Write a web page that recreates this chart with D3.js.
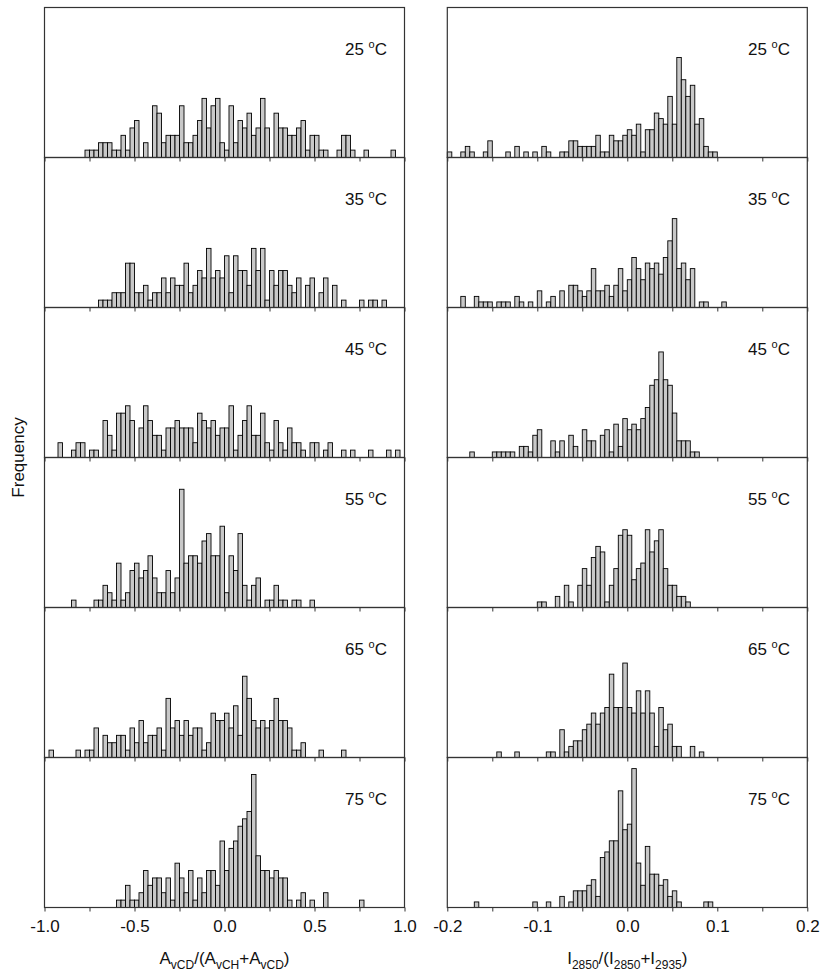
<!DOCTYPE html>
<html><head><meta charset="utf-8">
<script src="https://cdn.jsdelivr.net/npm/d3@7"></script>
<style>
body{margin:0;background:#fff}
svg{display:block}
text{font-family:"Liberation Sans",Arial,sans-serif;fill:#111}
</style>
</head><body>
<svg id="chart" width="823" height="980"></svg>
<script>
// ---------- data ----------
const temperatures = ["25", "35", "45", "55", "65", "75"];

// left column: A_vCD/(A_vCH+A_vCD), bins of 0.025 from -1.0
const leftBinStart = -1.0, leftBinWidth = 0.025;
const left25 = [0,0,0,0,0,0,0,0,0,1, 1,1,2,2,2,1,1,3,1,4, 5,0,2,0,7,6,2,3,3,3, 7,2,2,3,5,8,4,7,8,2, 1,7,2,5,4,6,3,4,8,4, 0,6,4,4,3,3,4,5,1,3, 3,1,1,0,0,1,3,3,1,0, 0,1,0,0,0,0,0,1,0,0];
const left35 = [0,0,0,0,0,0,0,0,0,0, 0,0,1,1,1,2,2,2,6,6, 2,2,3,1,2,2,4,2,4,3, 3,6,2,3,5,4,8,4,5,4, 7,2,7,5,5,3,8,5,8,1, 5,3,5,5,3,2,4,0,3,4, 0,2,4,0,3,0,1,0,0,0, 1,0,1,1,0,1,0,0,0,0];
const left45 = [0,0,0,2,0,0,1,2,2,0, 1,1,0,5,3,1,6,6,7,5, 0,4,7,5,3,3,1,4,4,5, 4,4,4,2,6,5,4,5,3,4, 4,7,1,3,5,7,3,3,6,2, 1,5,2,1,4,2,2,1,0,2, 2,0,1,2,0,0,1,0,1,0, 0,0,1,0,0,0,1,0,1,0];
const left55 = [0,0,0,0,0,0,1,0,0,0, 0,1,1,3,2,1,6,1,2,5, 6,4,5,7,4,2,2,5,2,4, 16,6,7,7,6,9,10,7,7,11, 2,7,5,10,3,1,3,4,0,1, 1,3,1,1,0,1,1,0,0,1, 0,0,0,0,0,0,0,0,0,0, 0,0,0,0,0,0,0,0,0,0];
const left65 = [0,1,0,0,0,0,0,1,0,1, 1,4,0,3,2,2,3,3,1,4, 2,5,2,3,3,4,1,8,4,5, 3,5,3,4,4,1,2,6,5,5, 6,4,7,3,11,8,5,4,5,4, 5,8,5,5,4,1,1,2,0,0, 0,1,0,0,0,0,1,0,0,0, 0,0,0,0,0,0,0,0,0,0];
const left75 = [0,0,0,0,0,0,0,0,0,0, 0,0,0,0,0,0,1,1,3,1, 1,2,5,3,4,4,2,4,1,6, 4,2,5,1,4,2,5,5,3,9, 5,8,9,11,12,13,18,7,5,5, 4,5,4,4,1,0,1,2,0,1, 0,0,2,0,0,0,0,0,0,0, 1,0,0,0,0,0,0,0,0,0];

// right column: I2850/(I2850+I2935), bins of 0.005 from -0.2
const rightBinStart = -0.2, rightBinWidth = 0.005;
const right25 = [1,0,0,1,2,1,0,0,1,3, 0,0,0,1,0,2,0,1,0,1, 0,2,1,0,0,1,1,3,3,2, 2,2,2,4,1,1,4,3,3,4, 5,4,6,1,5,5,8,7,6,11, 6,18,14,11,13,6,7,2,1,1, 0,0,0,0,0,0,0,0,0,0, 0,0,0,0,0,0,0,0,0,0];
const right35 = [0,0,0,2,0,0,2,1,1,1, 0,1,1,1,0,2,1,0,1,0, 3,0,1,2,0,3,0,4,4,3, 2,3,7,3,3,4,2,4,7,3, 5,9,7,5,8,7,8,6,9,12, 16,7,8,5,7,0,1,1,0,0, 0,1,0,0,0,0,0,0,0,0, 0,0,0,0,0,0,0,0,0,0];
const right45 = [0,0,0,0,0,1,0,0,0,0, 1,1,1,1,1,0,2,2,1,4, 5,0,0,3,1,3,0,4,2,0, 5,3,3,0,4,5,1,6,2,7, 5,6,5,7,9,13,14,19,14,13, 8,3,3,3,1,1,0,0,0,0, 0,0,0,0,0,0,0,0,0,0, 0,0,0,0,0,0,0,0,0,0];
const right55 = [0,0,0,0,0,0,0,0,0,0, 0,0,0,0,0,0,0,0,0,0, 1,1,0,0,2,0,4,1,0,4, 7,4,9,11,10,1,4,7,13,14, 13,5,7,8,14,10,12,14,7,4, 4,2,2,1,0,0,0,0,0,0, 0,0,0,0,0,0,0,0,0,0, 0,0,0,0,0,0,0,0,0,0];
const right65 = [0,0,0,0,0,0,0,0,0,0, 0,1,0,0,0,1,0,0,0,0, 0,0,1,1,0,5,1,2,3,3, 5,6,8,6,8,9,15,9,9,17, 9,8,12,8,12,8,2,9,5,6, 2,2,0,0,2,0,1,0,0,0, 0,0,0,0,0,0,0,0,0,0, 0,0,0,0,0,0,0,0,0,0];
const right75 = [0,0,0,0,0,0,1,0,0,0, 0,0,0,0,0,0,0,0,0,1, 0,0,1,0,0,2,0,1,3,3, 3,4,5,2,9,10,12,12,21,14, 15,25,8,4,11,6,6,4,5,2, 3,1,0,0,0,0,0,1,1,0, 0,0,0,0,0,0,0,0,0,0, 0,0,0,0,0,0,0,0,0,0];

const leftTicks = [-1.0, -0.75, -0.5, -0.25, 0.0, 0.25, 0.5, 0.75, 1.0];
const leftTickLabels = [-1.0, -0.5, 0.0, 0.5, 1.0];
const rightTicks = [-0.2, -0.15, -0.1, -0.05, 0.0, 0.05, 0.1, 0.15, 0.2];
const rightTickLabels = [-0.2, -0.1, 0.0, 0.1, 0.2];

const leftSeries = [left25, left35, left45, left55, left65, left75];
const rightSeries = [right25, right35, right45, right55, right65, right75];

// ---------- layout ----------
const svg = d3.select("#chart");
const top0 = 7.5, rowH = 150;
const colL = {x0: 44.5, x1: 404.5};
const colR = {x0: 447.3, x1: 807.3};

const xL = d3.scaleLinear().domain([-1, 1]).range([colL.x0, colL.x1]);
const xR = d3.scaleLinear().domain([-0.2, 0.2]).range([colR.x0, colR.x1]);
const yL = d3.scaleLinear().domain([0, 20.3]).range([rowH, 0]);
const yR = d3.scaleLinear().domain([0, 27]).range([rowH, 0]);

function drawPanel(g, counts, x, y, binStart, binW, temp, labelX) {
  const bins = counts.map((c, i) => ({x0: binStart + i * binW, x1: binStart + (i + 1) * binW, c}))
                     .filter(d => d.c > 0);
  g.selectAll("rect.bar").data(bins).join("rect")
    .attr("class", "bar")
    .attr("x", d => x(d.x0))
    .attr("width", d => x(d.x1) - x(d.x0))
    .attr("y", d => y(d.c))
    .attr("height", d => y(0) - y(d.c))
    .attr("fill", "#c8c8c8")
    .attr("stroke", "#000")
    .attr("stroke-width", 0.9);
  const t = g.append("text")
    .attr("x", labelX).attr("y", 47)
    .attr("text-anchor", "end")
    .attr("font-size", 17);
  t.append("tspan").text(temp + " ");
  t.append("tspan").attr("font-size", 11).attr("dy", -7).text("o");
  t.append("tspan").attr("dy", 7).text("C");
}

function drawColumn(series, x, y, binStart, binW, ticks, tickLabels, col, labelX, fmt) {
  series.forEach((counts, r) => {
    const g = svg.append("g").attr("transform", `translate(0,${top0 + r * rowH})`);
    drawPanel(g, counts, x, y, binStart, binW, temperatures[r], labelX);
    const ax = d3.axisBottom(x).tickValues(ticks).tickSize(4)
      .tickFormat(r === series.length - 1 ? (d => tickLabels.some(v => Math.abs(v - d) < 1e-9) ? fmt(d) : "") : "");
    const axg = g.append("g").attr("transform", `translate(0,${rowH})`).call(ax);
    axg.select(".domain").remove();
    axg.selectAll(".tick line").attr("stroke", "#333");
    axg.selectAll(".tick text").attr("font-size", 17).attr("dy", "1.05em")
      .attr("font-family", "'Liberation Sans', Arial, sans-serif").attr("fill", "#111");
    g.append("rect").attr("x", col.x0).attr("y", 0)
      .attr("width", col.x1 - col.x0).attr("height", rowH)
      .attr("fill", "none").attr("stroke", "#333").attr("stroke-width", 1.2);
  });
}

const fmt1 = d3.format(".1f");
drawColumn(leftSeries, xL, yL, leftBinStart, leftBinWidth, leftTicks, leftTickLabels, colL, 387, d => fmt1(d).replace("−", "-"));
drawColumn(rightSeries, xR, yR, rightBinStart, rightBinWidth, rightTicks, rightTickLabels, colR, 790, d => fmt1(d).replace("−", "-"));

// axis titles
const bottomY = top0 + 6 * rowH;
const tL = svg.append("text").attr("x", (colL.x0 + colL.x1) / 2).attr("y", bottomY + 56)
  .attr("text-anchor", "middle").attr("font-size", 17);
[["A",""],["vCD","sub"],["/(A",""],["vCH","sub"],["+A",""],["vCD","sub"],[")",""]].forEach(([s, k], i, arr) => {
  const prevSub = i > 0 && arr[i-1][1] === "sub";
  const sp = tL.append("tspan").text(s);
  if (k === "sub") sp.attr("font-size", 12).attr("dy", 5);
  else if (prevSub) sp.attr("dy", -5);
});
const tR = svg.append("text").attr("x", (colR.x0 + colR.x1) / 2).attr("y", bottomY + 56)
  .attr("text-anchor", "middle").attr("font-size", 17);
[["I",""],["2850","sub"],["/(I",""],["2850","sub"],["+I",""],["2935","sub"],[")",""]].forEach(([s, k], i, arr) => {
  const prevSub = i > 0 && arr[i-1][1] === "sub";
  const sp = tR.append("tspan").text(s);
  if (k === "sub") sp.attr("font-size", 12).attr("dy", 5);
  else if (prevSub) sp.attr("dy", -5);
});

svg.append("text").attr("transform", `translate(24,${top0 + 3 * rowH}) rotate(-90)`)
  .attr("text-anchor", "middle").attr("font-size", 17).text("Frequency");
</script>
</body></html>
